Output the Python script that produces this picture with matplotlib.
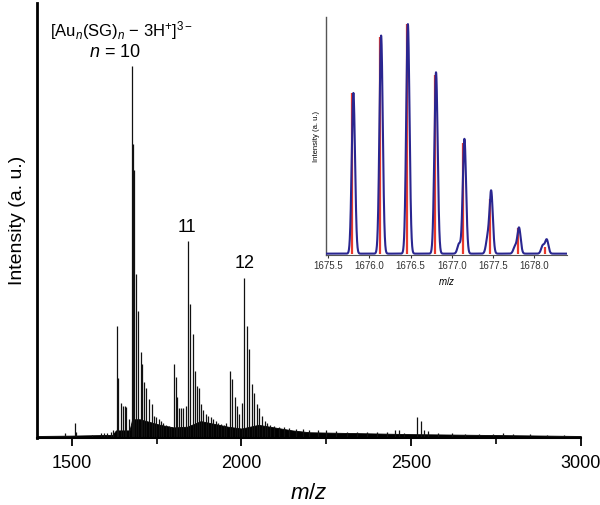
import numpy as np
import matplotlib
matplotlib.use("Agg")
import matplotlib.pyplot as plt

plt.rcParams["font.family"] = ["Liberation Sans", "DejaVu Sans"]
plt.rcParams["mathtext.fontset"] = "custom"
plt.rcParams["mathtext.rm"] = "Liberation Sans"
plt.rcParams["mathtext.it"] = "Liberation Sans:italic"

# ---- main spectrum: peak lists (m/z, relative intensity)
n10_mz = [1632, 1637, 1644, 1650, 1656, 1661, 1668, 1676, 1680, 1683, 1690, 1696,
          1703, 1708, 1714, 1720, 1728, 1735, 1742, 1749, 1756, 1763, 1770]
n10_int = [0.30, 0.16, 0.095, 0.086, 0.085, 0.083, 0.05, 1.00, 0.79, 0.72, 0.44, 0.34,
           0.23, 0.20, 0.15, 0.135, 0.105, 0.09, 0.06, 0.055, 0.05, 0.045, 0.04]

n11_mz = [1800, 1806, 1811, 1817, 1823, 1829, 1836, 1842, 1848, 1856, 1862, 1869,
          1875, 1881, 1888, 1895, 1902, 1909, 1917, 1924, 1932]
n11_int = [0.20, 0.165, 0.11, 0.08, 0.08, 0.08, 0.085, 0.53, 0.36, 0.28, 0.18, 0.14,
           0.135, 0.09, 0.075, 0.065, 0.06, 0.055, 0.05, 0.045, 0.04]

n12_mz = [1965, 1972, 1980, 1987, 1994, 2002, 2008, 2016, 2023, 2031, 2038, 2046,
          2052, 2061, 2068, 2076, 2085]
n12_int = [0.18, 0.157, 0.11, 0.085, 0.065, 0.095, 0.43, 0.30, 0.24, 0.146, 0.12, 0.09,
           0.08, 0.06, 0.045, 0.04, 0.035]

minor_mz = [1480, 1508, 1513, 1560, 1585, 1595, 1605, 1615, 1622,
            1778, 1785, 1792, 1940, 1948, 1955,
            2095, 2110, 2125, 2140, 2160, 2180, 2200, 2225, 2250, 2280, 2310, 2340,
            2370, 2400, 2430, 2452, 2464, 2480, 2518, 2528, 2539, 2551, 2580, 2620,
            2660, 2700, 2740, 2772, 2800, 2850, 2900, 2950]
minor_int = [0.012, 0.04, 0.015, 0.008, 0.012, 0.013, 0.012, 0.015, 0.02,
             0.035, 0.033, 0.03, 0.038, 0.035, 0.04,
             0.032, 0.03, 0.028, 0.027, 0.025, 0.024, 0.022, 0.02, 0.02, 0.018, 0.017, 0.016,
             0.016, 0.015, 0.015, 0.02, 0.02, 0.014, 0.057, 0.044, 0.02, 0.018, 0.012, 0.012,
             0.011, 0.011, 0.01, 0.012, 0.009, 0.009, 0.008, 0.008]

# dense unresolved floor under the clusters
env_mz = [1398, 1500, 1620, 1630, 1670, 1678, 1700, 1760, 1800, 1840, 1880, 1960,
          2000, 2050, 2150, 2200, 2500, 3000]
env_int = [0.005, 0.006, 0.008, 0.02, 0.02, 0.05, 0.05, 0.035, 0.028, 0.03, 0.045, 0.03,
           0.025, 0.035, 0.02, 0.015, 0.01, 0.005]

# ---- inset: isotope pattern of n = 10 (experimental profile + simulated sticks)
iso_mz = [1675.789, 1676.126, 1676.451, 1676.793, 1677.138, 1677.463, 1677.801, 1678.138]
iso_exp = [0.70, 0.95, 1.00, 0.79, 0.50, 0.27, 0.113, 0.061]
iso_sim = [0.70, 0.945, 1.00, 0.78, 0.48, 0.24, 0.11, 0.03]
shoulder_mz = [1677.089, 1677.435, 1677.768, 1678.106]
shoulder_int = [0.043, 0.065, 0.03, 0.035]
SIGMA = 0.02    # peak width in the inset profile
SHIFT = 0.016   # measured profile sits a bit right of the simulated sticks

fig = plt.figure(figsize=(6.0, 5.05), dpi=100)
ax = fig.add_axes([0.062, 0.133, 0.906, 0.861])

ax.fill_between(env_mz, 0, env_int, color="black", lw=0.6, zorder=1)
for mz, it in [(n10_mz, n10_int), (n11_mz, n11_int), (n12_mz, n12_int), (minor_mz, minor_int)]:
    ax.vlines(mz, 0, it, color="#111111", lw=0.9, zorder=2)

ax.set_xlim(1398, 3000)
ax.set_ylim(0, 1.17)
ax.set_xticks([1500, 2000, 2500, 3000])
ax.set_xticks([1750, 2250, 2750], minor=True)
ax.set_yticks([])
ax.tick_params(axis="x", which="major", direction="out", length=6, width=1.3, labelsize=13, pad=6)
ax.tick_params(axis="x", which="minor", direction="out", length=4, width=1.2)
for s in ["top", "right"]:
    ax.spines[s].set_visible(False)
ax.spines["left"].set_linewidth(2.0)
ax.spines["bottom"].set_linewidth(1.5)
ax.set_xlabel("$m/z$", fontsize=16, labelpad=8)
ax.set_ylabel("Intensity (a. u.)", fontsize=14, labelpad=8)

ax.text(1648, 1.097, r"[Au$_n$(SG)$_n$ − 3H$^{+}$]$^{3−}$", fontsize=12, ha="center", va="center")
ax.text(1627, 1.038, r"$n$ = 10", fontsize=13, ha="center", va="center")
ax.text(1840, 0.565, "11", fontsize=13, ha="center", va="center")
ax.text(2008, 0.47, "12", fontsize=13, ha="center", va="center")

# inset
ins = fig.add_axes([0.543, 0.495, 0.402, 0.471])
xs = np.linspace(1675.47, 1678.4, 3000)
prof = np.zeros_like(xs)
for c, h in zip(iso_mz, iso_exp):
    prof += h * np.exp(-(xs - (c + SHIFT)) ** 2 / (2 * SIGMA ** 2))
for c, h in zip(shoulder_mz, shoulder_int):
    prof += h * np.exp(-(xs - c) ** 2 / (2 * SIGMA ** 2))
ins.vlines(iso_mz, 0, iso_sim, color="#e8392c", lw=1.6, zorder=2)
ins.plot(xs, prof, color="#2a2690", lw=1.5, zorder=3)
ins.set_xlim(1675.47, 1678.4)
ins.set_ylim(-0.006, 1.03)
ins.set_xticks([1675.5, 1676.0, 1676.5, 1677.0, 1677.5, 1678.0])
ins.set_xticklabels(["1675.5", "1676.0", "1676.5", "1677.0", "1677.5", "1678.0"])
ins.set_yticks([])
ins.tick_params(axis="x", direction="out", length=2, width=0.8, labelsize=7, pad=2, colors="#333333")
for s in ["top", "right"]:
    ins.spines[s].set_visible(False)
ins.spines["left"].set_color("#555555")
ins.spines["left"].set_linewidth(1.0)
ins.spines["bottom"].set_color("#555555")
ins.spines["bottom"].set_linewidth(0.8)
ins.patch.set_alpha(0)
ins.set_xlabel("$m/z$", fontsize=7, labelpad=3)
ins.set_ylabel("Intensity (a. u.)", fontsize=5.5, labelpad=4)

fig.savefig("out.png", dpi=100)
